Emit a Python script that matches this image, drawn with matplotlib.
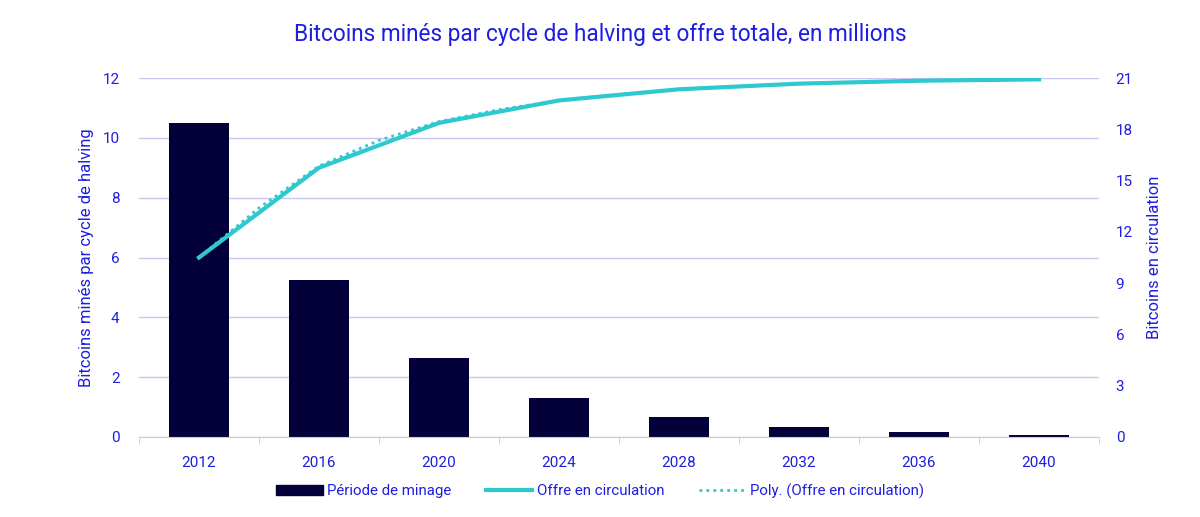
import matplotlib
matplotlib.use("Agg")
import matplotlib.pyplot as plt
from matplotlib.lines import Line2D
from matplotlib.patches import Patch

plt.rcParams['font.family'] = ['Roboto', 'DejaVu Sans']

years = ["2012", "2016", "2020", "2024", "2028", "2032", "2036", "2040"]
mined = [10.5, 5.25, 2.625, 1.3125, 0.656, 0.328, 0.164, 0.082]
supply = [10.5, 15.75, 18.375, 19.6875, 20.34, 20.67, 20.84, 20.92]
# dotted polynomial trend at half-category steps
trend_pos = [0, 0.5, 1, 1.5, 2, 2.5, 3, 3.5, 4, 4.5, 5, 5.5, 6, 6.5, 7]
trend_val = [10.5, 13.4, 15.85, 17.35, 18.45, 19.15, 19.68, 20.05, 20.33, 20.52, 20.66, 20.76, 20.84, 20.89, 20.92]

TXT = '#1e1ee0'
BAR = '#04003a'
LINE = '#2ec9cf'
GRID = '#c9c6f2'

fig = plt.figure(figsize=(12, 5.17), dpi=100)
ax = fig.add_axes([139/1200, 1-437/517, (1099-139)/1200, (437-78)/517])
x = list(range(len(years)))
ax.bar(x, mined, width=0.5, color=BAR, zorder=2)
ax.set_ylim(0, 12)
ax.set_xlim(-0.5, len(years)-0.5)
ax.set_yticks(range(0, 13, 2))
ax.grid(axis='y', color=GRID, linewidth=1, zorder=0)
ax.set_axisbelow(True)
for s in ['top', 'right', 'left']:
    ax.spines[s].set_visible(False)
ax.spines['bottom'].set_color(GRID)
ax.set_xticks(x)
ax.set_xticklabels(years)
ax.set_xticks([i + 0.5 for i in range(-1, len(years))], minor=True)
ax.tick_params(axis='x', which='major', length=0, pad=14, colors=TXT, labelsize=11)
ax.tick_params(axis='x', which='minor', length=5, color=GRID)
ax.tick_params(axis='y', length=0, pad=14, colors=TXT, labelsize=11)
ax.set_ylabel("Bitcoins minés par cycle de halving", color=TXT, fontsize=12, labelpad=6)

ax2 = ax.twinx()
ax2.plot(trend_pos, trend_val, color=LINE, linestyle=(0, (1, 1.5)), linewidth=2, zorder=3)
ax2.plot(x, supply, color=LINE, linewidth=3, zorder=4)
ax2.set_ylim(0, 21)
ax2.set_yticks(range(0, 22, 3))
for s in ['top', 'right', 'left', 'bottom']:
    ax2.spines[s].set_visible(False)
ax2.tick_params(axis='y', length=0, pad=12, colors=TXT, labelsize=11)
ax2.set_ylabel("Bitcoins en circulation", color=TXT, fontsize=12, labelpad=10)

fig.suptitle("Bitcoins minés par cycle de halving et offre totale, en millions",
             color=TXT, fontsize=16.3, y=0.955)

handles = [Patch(facecolor=BAR, edgecolor=BAR),
           Line2D([], [], color=LINE, linewidth=3),
           Line2D([], [], color=LINE, linewidth=2, linestyle=(0, (1, 1.5)))]
labels = ["Période de minage", "Offre en circulation", "Poly. (Offre en circulation)"]
leg = fig.legend(handles, labels, loc='center', bbox_to_anchor=(0.5, 1-491/517), ncol=3,
                 frameon=False, fontsize=10.8, handlelength=3.1, handletextpad=0.3,
                 columnspacing=2.3)
for t in leg.get_texts():
    t.set_color(TXT)

fig.savefig("out.png", dpi=100)
